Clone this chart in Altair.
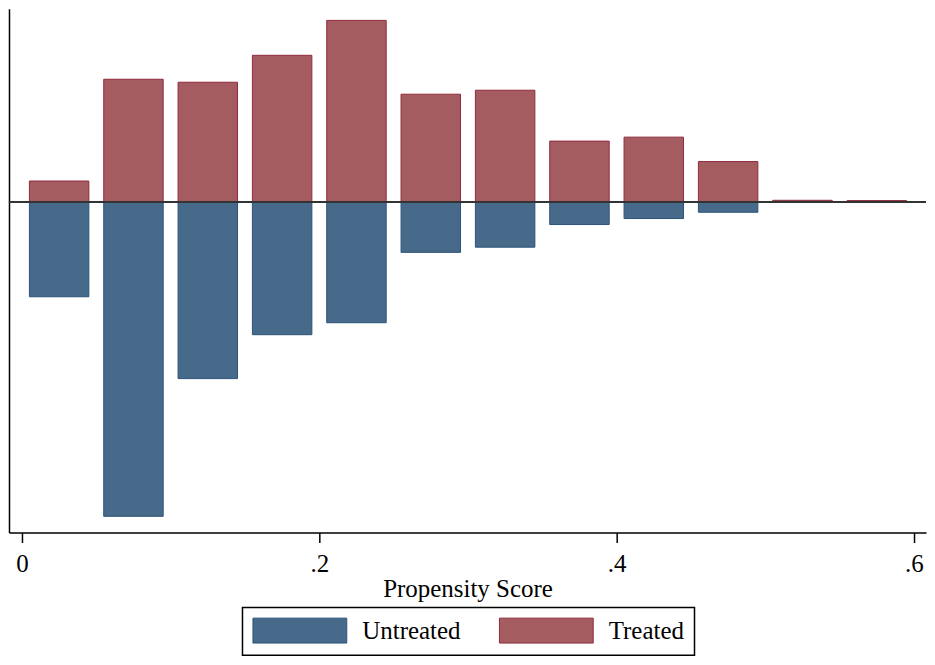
import altair as alt
import pandas as pd

# Bin centres of the propensity-score histogram
bin_centers = [0.025, 0.075, 0.125, 0.175, 0.225, 0.275, 0.325, 0.375, 0.425, 0.475, 0.525, 0.575]
# Heights (relative density units)
treated = [21, 123, 120, 147, 182, 108, 112, 61, 65, 40.5, 1.7, 1.4]
untreated = [95, 315, 177, 133, 121, 50.5, 45.3, 22.6, 16.6, 10.3, 0.4, 0.3]
groups = ["Untreated", "Treated"]
x_ticks = [0, 0.2, 0.4, 0.6]

rows = []
for c, t, u in zip(bin_centers, treated, untreated):
    rows.append({"center": c, "group": "Treated", "value": t})
    rows.append({"center": c, "group": "Untreated", "value": -u})
df = pd.DataFrame(rows)

fills = ["#476a8b", "#a55c61"]
strokes = ["#2b5379", "#8f2b3b"]
FONT = "Liberation Serif"

xscale = alt.Scale(domain=[-0.00872, 0.6081], nice=False, zero=False)
yscale = alt.Scale(domain=[-331.3, 193.7], nice=False)

bars = alt.Chart(df).transform_calculate(
    x0="datum.center - 0.02", x1="datum.center + 0.02"
).mark_bar(strokeWidth=1, opacity=1).encode(
    x=alt.X("x0:Q", scale=xscale,
            axis=alt.Axis(values=x_ticks, title="Propensity Score",
                          labelExpr="datum.value == 0 ? '0' : replace(format(datum.value, '.1f'), '0.', '.')",
                          grid=False, domainColor="black", domainWidth=1.5,
                          tickColor="black", tickSize=10, tickWidth=1.5,
                          labelFont=FONT, labelFontSize=25, labelColor="black",
                          labelPadding=9, titleFont=FONT, titleFontSize=25,
                          titleFontWeight="normal", titleColor="black", titlePadding=0)),
    x2="x1:Q",
    y=alt.Y("value:Q", scale=yscale,
            axis=alt.Axis(title=None, labels=False, ticks=False, grid=False,
                          domainColor="black", domainWidth=1.5)),
    y2=alt.datum(0),
    color=alt.Color("group:N", scale=alt.Scale(domain=groups, range=fills),
                    legend=alt.Legend(orient="none", legendX=234, legendY=600,
                                      direction="horizontal", title=None,
                                      symbolType="M-1,-1H6.52V1H-1Z",
                                      symbolSize=625, symbolOpacity=1,
                                      symbolStrokeWidth=1,
                                      labelFont=FONT, labelFontSize=25,
                                      labelColor="black", labelOffset=84,
                                      columnPadding=36, padding=10)),
    stroke=alt.Stroke("group:N", scale=alt.Scale(domain=groups, range=strokes), legend=None),
)

zero = alt.Chart(df).mark_rule(color="#333333", strokeWidth=2).encode(
    y=alt.datum(0)
)

chart = alt.layer(bars, zero).properties(
    width=919, height=525,
    padding={"left": 0, "top": 0, "right": 0, "bottom": 0},
).configure(background="white").configure_view(stroke=None).configure_legend(
    strokeColor="black", strokeWidth=1.5
)

chart.save("out.html", embed_options={"renderer": "svg", "actions": False})
